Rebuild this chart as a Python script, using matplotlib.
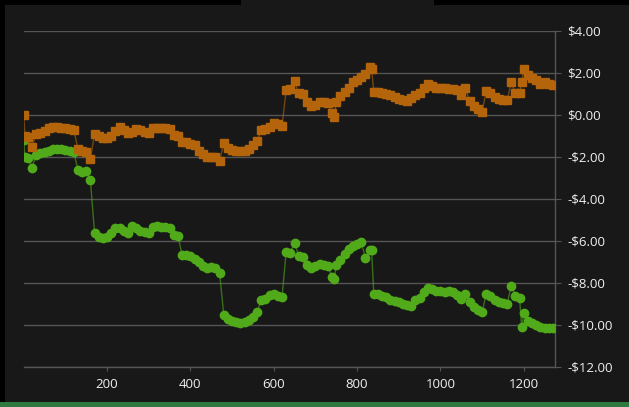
import matplotlib
matplotlib.use("Agg")
import matplotlib.pyplot as plt
from matplotlib.ticker import FuncFormatter, MultipleLocator
from matplotlib.patches import Rectangle

# shared x positions of both series
x_vals = [0, 3, 10, 20, 30, 40, 50, 60, 70, 80, 90, 100, 110, 120, 130, 140, 150, 160,
          170, 180, 190, 200, 210, 220, 230, 240, 250, 260, 270, 280, 290, 300, 310, 320,
          330, 340, 350, 360, 370, 380, 390, 400, 410, 420, 430, 440, 450, 460, 470, 480,
          490, 500, 510, 520, 530, 540, 550, 560, 570, 580, 590, 600, 610, 620, 630, 640,
          650, 660, 670, 680, 690, 700, 710, 720, 730, 740, 745, 750, 760, 770, 780, 790,
          800, 810, 820, 830, 835, 840, 850, 860, 870, 880, 890, 900, 910, 920, 930, 940,
          950, 960, 970, 980, 990, 1000, 1010, 1020, 1030, 1040, 1050, 1060, 1070, 1080,
          1090, 1100, 1110, 1120, 1130, 1140, 1150, 1160, 1170, 1180, 1190, 1195, 1200,
          1210, 1220, 1230, 1240, 1250, 1260, 1270]

orange_vals = [0.0, -1.0, -1.05, -1.5, -0.9, -0.85, -0.75, -0.6, -0.55, -0.55, -0.6, -0.6,
               -0.65, -0.7, -1.6, -1.7, -1.75, -2.1,
               -0.9, -1.0, -1.1, -1.1, -1.0, -0.75, -0.55, -0.7, -0.85, -0.8, -0.67, -0.7,
               -0.8, -0.85, -0.6, -0.6,
               -0.6, -0.6, -0.65, -0.95, -1.0, -1.3, -1.3, -1.4, -1.45, -1.7, -1.85, -2.0,
               -2.0, -2.0, -2.2, -1.35,
               -1.55, -1.65, -1.7, -1.7, -1.7, -1.6, -1.45, -1.25, -0.7, -0.65, -0.55, -0.4,
               -0.45, -0.5, 1.2, 1.25,
               1.6, 1.05, 1.0, 0.6, 0.45, 0.5, 0.6, 0.6, 0.55, 0.1, -0.1, 0.6, 0.9, 1.1,
               1.3, 1.55,
               1.65, 1.8, 1.95, 2.3, 2.2, 1.1, 1.1, 1.05, 1.0, 0.95, 0.85, 0.75, 0.7, 0.65,
               0.8, 0.95,
               1.05, 1.3, 1.5, 1.4, 1.3, 1.3, 1.3, 1.25, 1.25, 1.2, 0.95, 1.3, 0.65, 0.45,
               0.3, 0.15, 1.15, 1.05, 0.85, 0.75, 0.7, 0.7, 1.55, 1.05, 1.05, 1.55, 2.2,
               1.9, 1.75, 1.65, 1.5, 1.55, 1.5, 1.45]

green_vals = [-1.2, -2.0, -2.05, -2.5, -1.9, -1.8, -1.75, -1.7, -1.6, -1.6, -1.6, -1.65,
              -1.7, -1.75, -2.6, -2.7, -2.65, -3.1,
              -5.6, -5.8, -5.85, -5.8, -5.6, -5.4, -5.4, -5.5, -5.6, -5.3, -5.4, -5.5,
              -5.55, -5.6, -5.35, -5.3,
              -5.35, -5.35, -5.4, -5.7, -5.75, -6.65, -6.65, -6.7, -6.85, -7.0, -7.2, -7.3,
              -7.25, -7.3, -7.5, -9.5,
              -9.7, -9.8, -9.85, -9.9, -9.85, -9.75, -9.6, -9.4, -8.8, -8.75, -8.55, -8.5,
              -8.6, -8.65, -6.5, -6.55,
              -6.1, -6.7, -6.75, -7.15, -7.3, -7.2, -7.1, -7.15, -7.2, -7.7, -7.8, -7.15,
              -6.9, -6.6, -6.4, -6.25,
              -6.15, -6.05, -6.8, -6.45, -6.45, -8.5, -8.5, -8.6, -8.65, -8.8, -8.85, -8.9,
              -9.0, -9.05, -9.1, -8.8,
              -8.7, -8.45, -8.25, -8.3, -8.4, -8.4, -8.45, -8.4, -8.45, -8.55, -8.75, -8.5,
              -8.9, -9.15, -9.3, -9.4, -8.5, -8.6, -8.8, -8.9, -8.95, -9.0, -8.15, -8.6,
              -8.7, -10.1, -9.45, -9.8, -9.9, -10.0, -10.1, -10.15, -10.15, -10.15]

x_ticks = [200, 400, 600, 800, 1000, 1200]

bg = "#181818"
orange = "#b4640a"
green = "#50aa19"
grid_col = "#555555"
text_col = "#f0f0f0"

plt.rcParams["font.family"] = ["Open Sans", "DejaVu Sans"]

fig = plt.figure(figsize=(6.29, 4.07), dpi=100)
fig.patch.set_facecolor(bg)

# window chrome bits around the chart
fig.patches.append(Rectangle((0, 0), 5 / 629, 1, transform=fig.transFigure,
                             facecolor="black", edgecolor="none", zorder=0))
fig.patches.append(Rectangle((0, 402 / 407), 241 / 629, 5 / 407, transform=fig.transFigure,
                             facecolor="black", edgecolor="none", zorder=0))
fig.patches.append(Rectangle((434 / 629, 402 / 407), 195 / 629, 5 / 407,
                             transform=fig.transFigure,
                             facecolor="black", edgecolor="none", zorder=0))
fig.patches.append(Rectangle((0, 0), 1, 5 / 407, transform=fig.transFigure,
                             facecolor="#2f7a3e", edgecolor="none", zorder=0))

ax = fig.add_axes([23.7 / 629, 40 / 407, 531.3 / 629, 336 / 407])
ax.set_facecolor(bg)

ax.plot(x_vals, green_vals, color=green, lw=1, alpha=0.6, zorder=2)
ax.plot(x_vals, green_vals, ls="none", marker="o", ms=6, color=green, zorder=3)
ax.plot(x_vals, orange_vals, color=orange, lw=1, alpha=0.6, zorder=4)
ax.plot(x_vals, orange_vals, ls="none", marker="s", ms=5.5, color=orange, zorder=5)

ax.set_xlim(0, 1275)
ax.set_ylim(-12, 4)
ax.set_xticks(x_ticks)
ax.yaxis.set_major_locator(MultipleLocator(2))


def money(v, pos):
    if v < 0:
        return "-${:.2f}".format(-v)
    return "${:.2f}".format(v)


ax.yaxis.set_major_formatter(FuncFormatter(money))
ax.yaxis.tick_right()
ax.grid(axis="y", color=grid_col, lw=1)
ax.set_axisbelow(True)

for s in ["top", "left"]:
    ax.spines[s].set_visible(False)
for s in ["right", "bottom"]:
    ax.spines[s].set_color(grid_col)
    ax.spines[s].set_linewidth(1)

ax.tick_params(axis="y", colors=grid_col, labelcolor=text_col, length=4, pad=5,
               labelsize=9.5)
ax.tick_params(axis="x", colors=grid_col, labelcolor=text_col, length=3, pad=5,
               labelsize=9.5)

fig.savefig("out.png", dpi=100, facecolor=bg)
